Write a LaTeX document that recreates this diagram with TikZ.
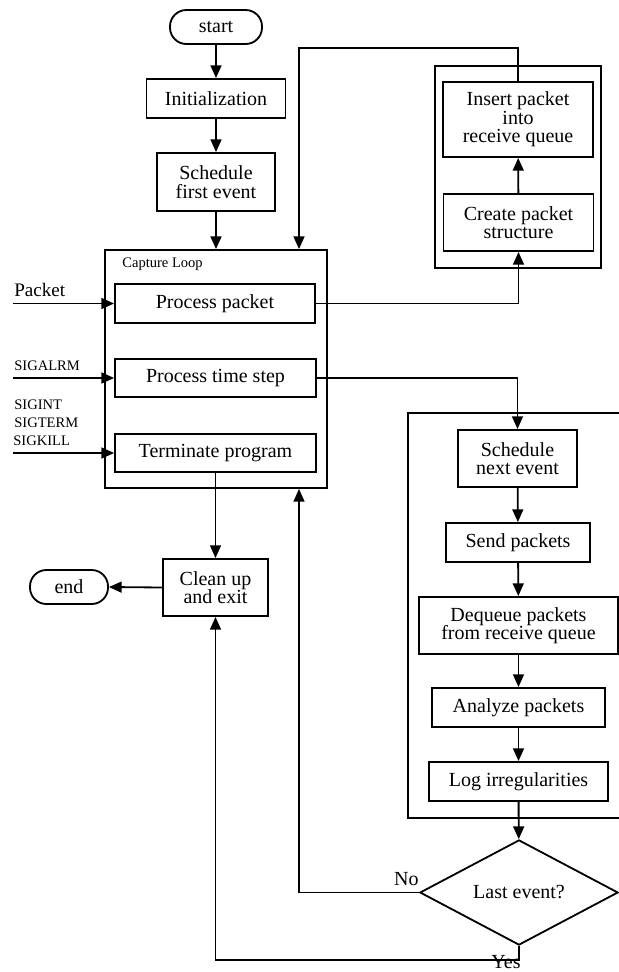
\documentclass[tikz,border=0pt]{standalone}
\usepackage{fontspec}
\setmainfont{Liberation Serif}
\usetikzlibrary{arrows.meta,positioning,calc,shapes.geometric}

\begin{document}
\begin{tikzpicture}[x=0.55pt, y=-0.55pt, font=\fontsize{11}{10.2}\selectfont,
  box/.style={draw, line width=1pt, align=center, inner sep=0pt},
  term/.style={draw, line width=1pt, rounded corners=9pt, inner sep=0pt,
               minimum height=18.7pt},
  group/.style={draw, line width=1pt, inner sep=0pt},
  sig/.style={font=\fontsize{8}{9.9}\selectfont, anchor=base west, inner sep=0pt},
  a/.style={-{Triangle[length=7pt,width=6pt]}, line width=1pt}]
\useasboundingbox (0,0) rectangle (619,972);
% left column
\node[term, minimum width=50.6pt] (start) at (216,27) {start};
\node[box, minimum width=76.5pt, minimum height=21.5pt] (init) at (216,98.5) {Initialization};
\node[box, minimum width=64.9pt, minimum height=31.9pt] (first) at (216,182) {Schedule\\first event};
\node[group, minimum width=122.1pt, minimum height=130.9pt] (loop) at (216,369) {};
\node[font=\fontsize{8}{9}\selectfont, anchor=base west, inner sep=0pt] (cap)
  at (122,267.5) {Capture Loop};
\node[box, minimum width=110pt, minimum height=21.2pt] (pkt) at (215,303.5) {Process packet};
\node[box, minimum width=110.5pt, minimum height=21pt] (tstep) at (215.5,378) {Process time step};
\node[box, minimum width=110.5pt, minimum height=21pt] (termp) at (215.5,453) {Terminate program};
\node[box, minimum width=57.8pt, minimum height=31.4pt] (clean) at (215.5,587.5) {Clean up\\and exit};
\node[term, minimum width=42.9pt] (end) at (69,587) {end};
% signals
\coordinate (inP) at (13,303.5);
\coordinate (inA) at (13,378);
\coordinate (inT) at (13,453);
\node[font=\fontsize{10.5}{10}\selectfont, anchor=base west, inner sep=0pt] (lP) at (14,296.5) {Packet};
\node[sig] (lA) at (14,370) {SIGALRM};
\node[sig] (lT1) at (14,409) {SIGINT};
\node[sig] (lT2) at (14,427) {SIGTERM};
\node[sig] (lT3) at (13,445) {SIGKILL};
% packet group
\node[group, minimum width=91.3pt, minimum height=111.1pt] (rxgrp) at (518,167) {};
\node[box, minimum width=82.5pt, minimum height=41.3pt] (ins) at (518,119.5) {Insert packet\\into\\receive queue};
\node[box, minimum width=82.5pt, minimum height=31.4pt] (mk) at (518.5,222.5) {Create packet\\structure};
% time step group
\node[group, minimum width=122.1pt, minimum height=222.8pt] (txgrp) at (519,615.5) {};
\node[box, minimum width=65.5pt, minimum height=31.4pt] (next) at (517.5,458.5) {Schedule\\next event};
\node[box, minimum width=79.2pt, minimum height=21.5pt] (send) at (518,542.5) {Send packets};
\node[box, minimum width=109.5pt, minimum height=31.4pt] (deq) at (518.5,625.5) {Dequeue packets\\from receive queue};
\node[box, minimum width=95pt, minimum height=21.5pt] (ana) at (518.5,707.5) {Analyze packets};
\node[box, minimum width=98.5pt, minimum height=21.5pt] (log) at (518.5,781.5) {Log irregularities};
\node[draw, line width=1pt, shape=diamond, inner sep=0pt, minimum width=109pt,
  minimum height=45.7pt] (last) at (519,892.5) {Last event?};
\node[anchor=base east, inner sep=0pt] (no) at (419,885) {No};
\node[anchor=base, inner sep=0pt] (yes) at (506,968) {Yes};
\coordinate (fb) at (299,48);
% connectors
\draw[a] (start) -- (init);
\draw[a] (init) -- (first);
\draw[a] (first) -- (first |- loop.north);
\draw[a] (inP) -- (pkt.west);
\draw[a] (inA) -- (tstep.west);
\draw[a] (inT) -- (termp.west);
\draw[a] (pkt.east) -| (mk.south);
\draw[a] (mk) -- (ins);
\draw[a] (ins.north) |- (fb) -- (fb |- loop.north);
\draw[a] (tstep.east) -| (next.north);
\draw[a] (next) -- (send);
\draw[a] (send) -- (deq);
\draw[a] (deq) -- (ana);
\draw[a] (ana) -- (log);
\draw[a] (log) -- (last);
\draw[a] (last.west) -| (fb |- loop.south);
\draw[a] (last.south) -- ++(0,14) -| (clean.south);
\draw[a] (termp.south) -- (clean.north);
\draw[a] (clean.west) -- (end.east);
\end{tikzpicture}
\end{document}
